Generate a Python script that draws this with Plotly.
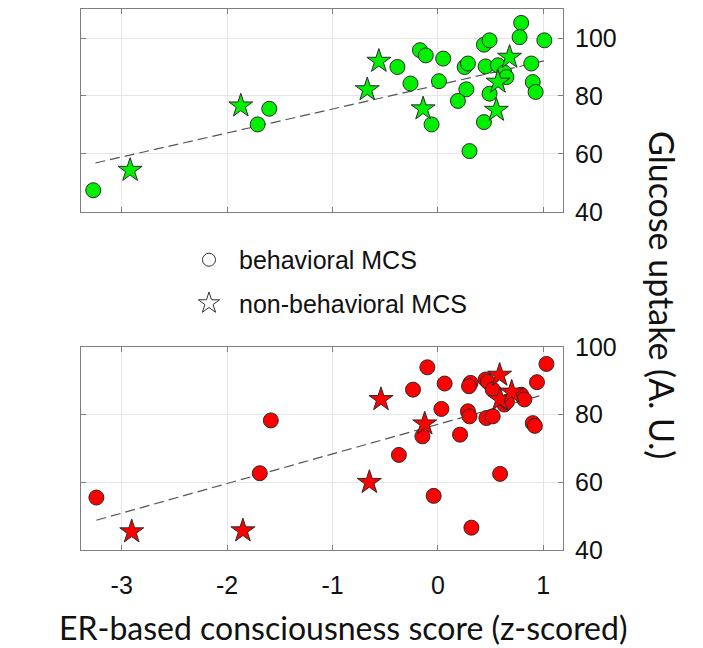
import plotly.graph_objects as go

# ---- Glucose uptake vs. ER-based consciousness score (top panel) ----
top_circle_x = [-3.27, -1.71, -1.60, -0.384, -0.26, -0.17, -0.115, -0.06, 0.05, 0.01,
                0.254, 0.285, 0.27, 0.19, 0.30, 0.437, 0.49, 0.453, 0.57, 0.49,
                0.437, 0.63, 0.65, 0.79, 0.775, 0.886, 0.90, 0.927, 1.01]
top_circle_y = [47.5, 70.2, 75.6, 90.0, 84.3, 95.8, 94.0, 70.2, 92.9, 85.1,
                90.0, 91.2, 82.3, 78.3, 61.0, 97.7, 99.2, 90.2, 90.6, 80.8,
                71.0, 88.1, 86.5, 105.2, 100.3, 91.2, 84.8, 81.4, 99.2]
top_star_x = [-2.92, -1.87, -0.67, -0.56, -0.14, 0.555, 0.57, 0.68]
top_star_y = [54.4, 76.6, 82.2, 92.0, 75.6, 75.1, 84.8, 93.4]
top_fit_x = [-3.25, 1.03]
top_fit_y = [56.9, 92.3]

# ---- bottom panel ----
bot_circle_x = [-3.24, -1.69, -1.585, -0.37, -0.236, -0.10, -0.147, -0.04, 0.064, 0.033,
                0.21, 0.285, 0.30, 0.31, 0.295, 0.318, 0.453, 0.475, 0.52, 0.46,
                0.52, 0.59, 0.63, 0.655, 0.79, 0.82, 0.94, 1.03, 0.90, 0.92]
bot_circle_y = [55.5, 62.7, 78.3, 68.1, 87.4, 94.0, 73.6, 56.0, 89.2, 81.7,
                74.1, 81.0, 79.5, 89.4, 88.4, 46.6, 90.4, 89.7, 87.4, 79.0,
                79.5, 62.5, 83.0, 83.8, 85.9, 84.5, 89.6, 95.0, 77.5, 76.7]
bot_star_x = [-2.905, -1.85, -0.65, -0.54, -0.125, 0.586, 0.59, 0.70]
bot_star_y = [45.4, 45.7, 60.0, 84.5, 77.3, 91.7, 84.5, 86.7]
bot_fit_x = [-3.24, 1.0]
bot_fit_y = [48.8, 85.9]

x_ticks = [-3, -2, -1, 0, 1]
x_tick_labels = ["-3", "-2", "-1", "0", "1"]
top_y_ticks = [40, 60, 80, 100]
bot_y_ticks = [40, 60, 80, 100]

legend_labels = ["behavioral MCS", "non-behavioral MCS"]
x_title = "ER-based consciousness score (z-scored)"
y_title = "Glucose uptake (A. U.)"

GREEN = "#00f000"
RED = "#ff0000"
EDGE = "#2b2b2b"
FIT = "#555555"
TICK_FONT = dict(family="Liberation Sans, Arial", size=25, color="#111111")

fig = go.Figure()


def add_panel(cx, cy, sx, sy, fx, fy, color, xa, ya):
    fig.add_trace(go.Scatter(x=fx, y=fy, mode="lines", xaxis=xa, yaxis=ya,
                             line=dict(color=FIT, width=1.2, dash="10px,5px"),
                             showlegend=False, hoverinfo="skip"))
    fig.add_trace(go.Scatter(x=cx, y=cy, mode="markers", xaxis=xa, yaxis=ya,
                             marker=dict(symbol="circle", size=15, color=color,
                                         line=dict(color=EDGE, width=1)),
                             showlegend=False))
    fig.add_trace(go.Scatter(x=sx, y=sy, mode="markers", xaxis=xa, yaxis=ya,
                             marker=dict(symbol="star", size=18, color=color,
                                         line=dict(color=EDGE, width=1)),
                             showlegend=False))


add_panel(top_circle_x, top_circle_y, top_star_x, top_star_y,
          top_fit_x, top_fit_y, GREEN, "x", "y")
add_panel(bot_circle_x, bot_circle_y, bot_star_x, bot_star_y,
          bot_fit_x, bot_fit_y, RED, "x2", "y2")

# open-symbol legend entries
fig.add_trace(go.Scatter(x=[None], y=[None], mode="markers", name=legend_labels[0],
                         legendgroup="behavioral",
                         marker=dict(symbol="circle-open", size=13, color="#333333",
                                     line=dict(width=1))))
fig.add_trace(go.Scatter(x=[None], y=[None], mode="markers", name=legend_labels[1],
                         legendgroup="nonbehavioral",
                         marker=dict(symbol="star-open", size=16, color="#333333",
                                     line=dict(width=1))))

axis_common = dict(showline=True, linecolor="#7f7f7f", linewidth=1, mirror="ticks",
                   ticks="inside", ticklen=5, tickcolor="#7f7f7f",
                   showgrid=True, gridcolor="#e6e6e6", gridwidth=1,
                   zeroline=False, tickfont=TICK_FONT, automargin=False)

fig.update_layout(
    width=703, height=648,
    margin=dict(l=81, r=140, t=9, b=98, autoexpand=False),
    paper_bgcolor="white", plot_bgcolor="white",
    xaxis=dict(axis_common, domain=[0, 1], range=[-3.386, 1.187], anchor="y",
               tickvals=x_ticks, showticklabels=False),
    yaxis=dict(axis_common, domain=[0.6248, 1.0], range=[40, 110], anchor="x",
               side="right", tickvals=top_y_ticks, ticklabelstandoff=6),
    xaxis2=dict(axis_common, domain=[0, 1], range=[-3.386, 1.187], anchor="y2",
                tickvals=x_ticks, ticktext=x_tick_labels, ticklabelstandoff=13),
    yaxis2=dict(axis_common, domain=[0, 0.3752], range=[40, 100], anchor="x2",
                side="right", tickvals=bot_y_ticks, ticklabelstandoff=6),
    legend=dict(x=0.2033, y=0.5786, xanchor="left", yanchor="top",
                font=dict(family="Liberation Sans, Arial", size=25, color="#111111"),
                bgcolor="rgba(0,0,0,0)", tracegroupgap=8, itemwidth=50),
    annotations=[
        dict(text=x_title, xref="paper", yref="paper", x=0.5436, y=-0.144,
             xanchor="center", yanchor="middle", showarrow=False,
             font=dict(family="Lato", size=32, color="#111111")),
        dict(text=y_title, xref="paper", yref="paper", x=1.2075, y=0.4713,
             xanchor="center", yanchor="middle", showarrow=False, textangle=90,
             font=dict(family="Lato", size=34, color="#111111")),
    ],
)

fig.write_html("out.html")
